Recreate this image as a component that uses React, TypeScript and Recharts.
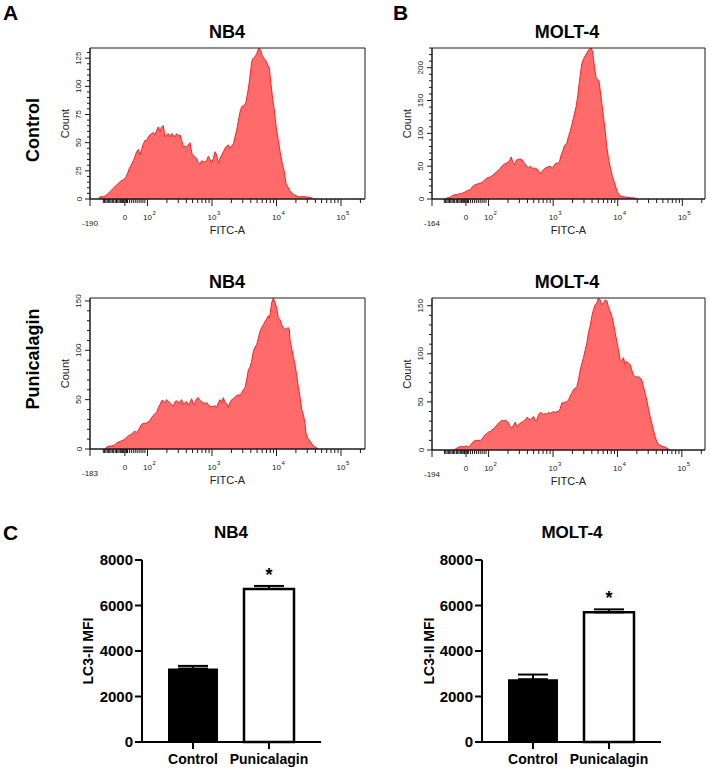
import React from "react";
import {
  AreaChart,
  Area,
  XAxis,
  YAxis,
  ReferenceArea,
  BarChart,
  Bar,
  Cell,
  ErrorBar,
  LabelList,
} from "recharts";

const FONT = "'Liberation Sans', Arial, sans-serif";
const AXIS = "#1a1a1a";

// ---- histogram data: [display position in decades (log10 FITC-A), count] ----
const nb4Control = [
  [1.238, 0], [1.264, 2], [1.315, 2], [1.351, 3], [1.393, 5], [1.444, 8], [1.496, 11], [1.548, 14],
  [1.589, 16], [1.625, 17], [1.662, 19], [1.693, 23], [1.718, 27], [1.755, 31], [1.796, 36], [1.832, 42],
  [1.858, 44], [1.884, 39], [1.91, 44], [1.935, 49], [1.961, 52], [1.987, 52], [2.013, 55], [2.039, 57],
  [2.065, 58], [2.09, 59], [2.116, 57], [2.142, 61], [2.168, 64], [2.194, 60], [2.22, 64], [2.245, 65],
  [2.271, 55], [2.297, 57], [2.323, 58], [2.349, 55], [2.375, 58], [2.401, 57], [2.426, 55], [2.452, 58],
  [2.478, 56], [2.504, 57], [2.53, 52], [2.556, 46], [2.581, 47], [2.607, 46], [2.633, 48], [2.659, 50],
  [2.674, 45], [2.695, 39], [2.726, 38], [2.762, 36], [2.788, 32], [2.814, 31], [2.84, 34], [2.866, 33],
  [2.891, 33], [2.917, 34], [2.943, 38], [2.969, 35], [2.995, 32], [3.021, 36], [3.047, 42], [3.072, 39],
  [3.098, 32], [3.124, 36], [3.15, 39], [3.176, 42], [3.202, 45], [3.227, 47], [3.253, 48], [3.279, 45],
  [3.305, 47], [3.331, 49], [3.357, 55], [3.382, 61], [3.408, 69], [3.434, 77], [3.46, 82], [3.501, 83],
  [3.527, 86], [3.553, 94], [3.574, 102], [3.6, 114], [3.615, 122], [3.641, 125], [3.667, 126], [3.693, 129],
  [3.718, 133], [3.734, 134], [3.754, 132], [3.78, 127], [3.806, 125], [3.832, 123], [3.863, 119], [3.889, 116],
  [3.915, 102], [3.94, 89], [3.966, 79], [3.997, 63], [4.028, 52], [4.059, 41], [4.095, 30], [4.121, 24],
  [4.147, 14], [4.173, 11], [4.209, 7], [4.261, 4], [4.338, 2], [4.442, 2], [4.545, 1], [4.571, 0],
];

const molt4Control = [
  [1.33, 0], [1.356, 1.5], [1.407, 3], [1.459, 6], [1.51, 7], [1.562, 8], [1.598, 9], [1.639, 11],
  [1.68, 13], [1.716, 14], [1.753, 19], [1.794, 22], [1.835, 23], [1.871, 24], [1.907, 26], [1.938, 29],
  [1.974, 32], [2.01, 33], [2.052, 35], [2.088, 38], [2.129, 42], [2.165, 45], [2.206, 50], [2.242, 53],
  [2.284, 55], [2.32, 57], [2.351, 64], [2.376, 56], [2.402, 52], [2.428, 59], [2.454, 60], [2.49, 61],
  [2.526, 59], [2.557, 54], [2.593, 50], [2.619, 47], [2.644, 50], [2.68, 47], [2.722, 47], [2.758, 45],
  [2.799, 38], [2.825, 42], [2.851, 45], [2.876, 47], [2.918, 49], [2.954, 50], [2.99, 47], [3.021, 52],
  [3.046, 55], [3.072, 54], [3.098, 57], [3.124, 67], [3.144, 72], [3.175, 81], [3.211, 85], [3.237, 95],
  [3.263, 103], [3.289, 113], [3.325, 128], [3.356, 141], [3.382, 158], [3.402, 176], [3.423, 191], [3.443, 206],
  [3.469, 213], [3.495, 218], [3.526, 223], [3.547, 227], [3.572, 229], [3.593, 230], [3.614, 222], [3.639, 201],
  [3.665, 185], [3.691, 182], [3.711, 179], [3.727, 166], [3.753, 146], [3.778, 126], [3.804, 105], [3.83, 80],
  [3.856, 62], [3.887, 47], [3.918, 34], [3.949, 25], [3.985, 13], [4.021, 6], [4.062, 4], [4.113, 3],
  [4.191, 2], [4.268, 1.5], [4.294, 0],
];

const nb4Punicalagin = [
  [1.351, 0], [1.367, 2], [1.403, 3], [1.444, 3], [1.486, 4], [1.522, 6], [1.548, 7], [1.589, 8],
  [1.625, 9], [1.662, 11], [1.693, 13], [1.729, 14], [1.765, 16], [1.796, 18], [1.832, 17], [1.858, 19],
  [1.884, 22], [1.91, 25], [1.935, 26], [1.972, 26], [2.003, 27], [2.039, 29], [2.065, 32], [2.09, 34],
  [2.116, 36], [2.142, 37], [2.168, 42], [2.194, 45], [2.22, 49], [2.245, 49], [2.271, 47], [2.297, 50],
  [2.323, 48], [2.349, 47], [2.375, 45], [2.401, 43], [2.426, 48], [2.452, 49], [2.478, 47], [2.504, 48],
  [2.53, 50], [2.556, 45], [2.581, 47], [2.607, 48], [2.633, 45], [2.659, 47], [2.685, 51], [2.711, 45],
  [2.736, 47], [2.762, 51], [2.788, 52], [2.814, 49], [2.84, 48], [2.866, 47], [2.891, 46], [2.917, 47],
  [2.943, 45], [2.969, 43], [2.995, 43], [3.021, 43], [3.047, 44], [3.072, 42], [3.098, 47], [3.124, 50],
  [3.15, 47], [3.176, 52], [3.202, 47], [3.227, 46], [3.253, 42], [3.279, 47], [3.305, 50], [3.331, 51],
  [3.357, 53], [3.382, 54], [3.408, 55], [3.434, 54], [3.46, 57], [3.486, 60], [3.511, 62], [3.537, 70],
  [3.563, 80], [3.589, 83], [3.615, 89], [3.641, 99], [3.667, 103], [3.693, 106], [3.718, 112], [3.744, 119],
  [3.77, 123], [3.796, 126], [3.822, 129], [3.848, 132], [3.873, 135], [3.889, 133], [3.904, 138], [3.925, 148],
  [3.951, 153], [3.977, 148], [4.003, 143], [4.028, 133], [4.054, 131], [4.08, 126], [4.106, 123], [4.132, 121],
  [4.157, 122], [4.183, 123], [4.199, 121], [4.209, 111], [4.235, 102], [4.261, 94], [4.287, 85], [4.313, 75],
  [4.338, 63], [4.364, 53], [4.39, 40], [4.416, 35], [4.442, 26], [4.457, 16], [4.483, 11], [4.519, 8],
  [4.561, 4], [4.597, 2], [4.649, 0],
];

const molt4Punicalagin = [
  [1.457, 0], [1.483, 1], [1.535, 3], [1.576, 4], [1.612, 3], [1.638, 4], [1.664, 4], [1.69, 3],
  [1.716, 5], [1.742, 7], [1.767, 9], [1.793, 10], [1.835, 10], [1.871, 10], [1.897, 11], [1.922, 14],
  [1.948, 16], [1.974, 17], [2.0, 19], [2.026, 19], [2.052, 21], [2.078, 22], [2.103, 24], [2.129, 26],
  [2.155, 28], [2.181, 29], [2.207, 31], [2.233, 30], [2.258, 31], [2.284, 30], [2.31, 28], [2.336, 24],
  [2.362, 23], [2.388, 26], [2.414, 29], [2.439, 24], [2.465, 26], [2.491, 28], [2.517, 29], [2.543, 30],
  [2.568, 31], [2.594, 34], [2.62, 33], [2.646, 31], [2.672, 33], [2.698, 35], [2.724, 30], [2.749, 31],
  [2.775, 37], [2.801, 39], [2.827, 38], [2.853, 37], [2.879, 38], [2.904, 37], [2.93, 39], [2.956, 38],
  [2.982, 39], [3.008, 40], [3.034, 39], [3.059, 40], [3.085, 40], [3.111, 43], [3.137, 49], [3.163, 49],
  [3.189, 50], [3.215, 50], [3.24, 52], [3.266, 56], [3.292, 59], [3.318, 63], [3.344, 64], [3.37, 66],
  [3.395, 73], [3.421, 83], [3.447, 90], [3.473, 96], [3.499, 104], [3.525, 111], [3.55, 122], [3.576, 129],
  [3.602, 139], [3.628, 146], [3.654, 151], [3.68, 153], [3.705, 158], [3.731, 156], [3.757, 151], [3.783, 153],
  [3.809, 156], [3.835, 155], [3.86, 149], [3.886, 144], [3.912, 139], [3.938, 132], [3.964, 122], [3.99, 113],
  [4.016, 104], [4.041, 94], [4.067, 92], [4.093, 96], [4.119, 89], [4.145, 92], [4.171, 90], [4.196, 89],
  [4.222, 83], [4.248, 78], [4.274, 76], [4.326, 76], [4.351, 75], [4.377, 73], [4.403, 66], [4.429, 59],
  [4.455, 52], [4.481, 43], [4.506, 35], [4.532, 28], [4.558, 21], [4.584, 14], [4.61, 9], [4.636, 6],
  [4.687, 4], [4.739, 3], [4.791, 1], [4.817, 0],
];

// ---- axis tick labels ----
const decades = [2, 3, 4, 5];
const decadeExps = ["2", "3", "4", "5"];
const zeroPos = 1.65;
const linearMinors = [
  1.315, 1.335, 1.355, 1.375, 1.395, 1.415, 1.435, 1.455, 1.475, 1.5, 1.52, 1.54, 1.56, 1.58, 1.6,
  1.615, 1.625, 1.635, 1.665, 1.675, 1.69, 1.72, 1.75, 1.78, 1.81, 1.84, 1.87, 1.9, 1.93, 1.96,
];
const logMinors = [2, 3, 4]
  .flatMap((d) => [2, 3, 4, 5, 6, 7, 8, 9].map((k) => d + Math.log10(k)))
  .concat([5 + Math.log10(2)]);

// ---- bar data ----
const cellLines = ["NB4", "MOLT-4"];
const treatments = ["Control", "Punicalagin"];
const nb4Mfi = [3230, 6730];
const nb4Sem = [115, 130];
const molt4Mfi = [2760, 5700];
const molt4Sem = [205, 130];
const sigMarks = ["", "*"];
const mfiTicks = [0, 2000, 4000, 6000, 8000];

type Major = { v: number; label: string; exp?: string; low?: boolean };

const HistXTick = (props: any) => {
  const { x, y, payload, majors } = props;
  const m: Major | undefined = majors.find((t: Major) => Math.abs(t.v - payload.value) < 1e-6);
  return (
    <g>
      <line x1={x} y1={y} x2={x} y2={y + (m ? 7 : 4)} stroke={AXIS} />
      {m && m.exp && (
        <g fontFamily={FONT} fill="#222">
          <text x={x} y={y + 21} fontSize={8} textAnchor="middle">10</text>
          <text x={x + 5} y={y + 15.5} fontSize={6}>{m.exp}</text>
        </g>
      )}
      {m && !m.exp && (
        <text x={x} y={y + (m.low ? 27 : 21)} fontSize={8} textAnchor="middle" fontFamily={FONT} fill="#222">
          {m.label}
        </text>
      )}
    </g>
  );
};

const HistYTick = (props: any) => {
  const { x, y, payload, majors } = props;
  const major = majors.includes(payload.value);
  return (
    <g>
      <line x1={x} y1={y} x2={x - (major ? 5 : 3)} y2={y} stroke={AXIS} />
      {major && (
        <text
          x={x - 8.5}
          y={y}
          transform={`rotate(-90 ${x - 8.5} ${y})`}
          textAnchor="middle"
          fontSize={8}
          fontFamily={FONT}
          fill="#222"
        >
          {payload.value}
        </text>
      )}
    </g>
  );
};

interface HistProps {
  data: number[][];
  box: { x: number; y: number; w: number; h: number };
  xDomain: [number, number];
  yMax: number;
  yMajor: number[];
  yStep: number;
  negLabel: string;
}

const Histogram = ({ data, box, xDomain, yMax, yMajor, yStep, negLabel }: HistProps) => {
  const YW = 50;
  const MT = 5;
  const MR = 8;
  const XH = 62;
  const rows = data.map(([x, count]) => ({ x, count }));
  const xMajors: Major[] = [
    { v: xDomain[0], label: negLabel, low: true },
    { v: zeroPos, label: "0" },
    ...decades.map((d, i) => ({ v: d, label: "10", exp: decadeExps[i] })),
  ];
  const xTicks = [...xMajors.map((m) => m.v), ...linearMinors, ...logMinors]
    .filter((v) => v >= xDomain[0] && v <= xDomain[1])
    .sort((a, b) => a - b);
  const yTicks: number[] = [];
  for (let v = 0; v <= yMax; v += yStep) yTicks.push(v);

  return (
    <div style={{ position: "absolute", left: box.x - YW, top: box.y - MT }}>
      <AreaChart
        width={YW + box.w + MR}
        height={MT + box.h + XH}
        data={rows}
        margin={{ top: MT, right: MR, left: 0, bottom: 0 }}
      >
        <XAxis
          dataKey="x"
          type="number"
          domain={xDomain}
          allowDataOverflow
          ticks={xTicks}
          interval={0}
          tickSize={0}
          tickMargin={0}
          tickLine={false}
          axisLine={{ stroke: AXIS }}
          height={XH}
          tick={(p: any) => <HistXTick {...p} majors={xMajors} />}
          label={{ value: "FITC-A", position: "center", fontSize: 11, fill: "#222", fontFamily: FONT }}
        />
        <YAxis
          type="number"
          domain={[0, yMax]}
          allowDataOverflow
          ticks={yTicks}
          interval={0}
          tickSize={0}
          tickMargin={0}
          tickLine={false}
          axisLine={{ stroke: AXIS }}
          width={YW}
          tick={(p: any) => <HistYTick {...p} majors={yMajor} />}
          label={{ value: "Count", angle: -90, position: "center", fontSize: 11, fill: "#222", fontFamily: FONT }}
        />
        <Area
          type="linear"
          dataKey="count"
          stroke="#ff2020"
          strokeWidth={1}
          fill="#ff6b6b"
          fillOpacity={1}
          dot={false}
          activeDot={false}
          isAnimationActive={false}
        />
        <ReferenceArea
          x1={xDomain[0]}
          x2={xDomain[1]}
          y1={0}
          y2={yMax}
          fill="none"
          stroke={AXIS}
          ifOverflow="visible"
        />
      </AreaChart>
    </div>
  );
};

const MfiChart = ({ values, errors, left, yAxisW }: { values: number[]; errors: number[]; left: number; yAxisW: number }) => {
  const rows = treatments.map((name, i) => ({ name, mfi: values[i], err: [0, errors[i]], sig: sigMarks[i] }));
  const txt = { fontSize: 14, fontWeight: 700, fill: "#000", fontFamily: FONT };
  return (
    <div style={{ position: "absolute", left, top: 530 }}>
      <BarChart width={yAxisW + 179 + 6} height={239} data={rows} margin={{ top: 30, right: 6, left: 0, bottom: 0 }}>
        <XAxis
          dataKey="name"
          padding={{ left: 13, right: 14 }}
          height={27}
          tickSize={7}
          tickMargin={5}
          interval={0}
          axisLine={{ stroke: "#000", strokeWidth: 2 }}
          tickLine={{ stroke: "#000", strokeWidth: 2 }}
          tick={txt}
        />
        <YAxis
          domain={[0, 8000]}
          ticks={mfiTicks}
          interval={0}
          width={yAxisW}
          tickSize={7}
          tickMargin={2}
          axisLine={{ stroke: "#000", strokeWidth: 2 }}
          tickLine={{ stroke: "#000", strokeWidth: 2 }}
          tick={{ ...txt, fontSize: 15 }}
          label={{ value: "LC3-II MFI", angle: -90, position: "center", ...txt }}
        />
        <Bar dataKey="mfi" barSize={50} isAnimationActive={false}>
          {rows.map((r, i) => (
            <Cell key={r.name} fill={i === 0 ? "#000" : "#fff"} stroke="#000" strokeWidth={i === 0 ? 0 : 2.5} />
          ))}
          <ErrorBar dataKey="err" width={15} stroke="#000" strokeWidth={2} direction="y" />
          <LabelList dataKey="sig" position="top" offset={8} style={{ ...txt, fontSize: 18 }} />
        </Bar>
      </BarChart>
    </div>
  );
};

export default function App() {
  const bold = { fontWeight: 700, fill: "#000" };
  return (
    <div style={{ position: "absolute", left: 0, top: 0, width: 710, height: 769, background: "#fff", fontFamily: FONT }}>
      <svg width={710} height={769} style={{ position: "absolute", left: 0, top: 0 }} fontFamily={FONT}>
        <text x={3} y={20} fontSize={21} {...bold}>A</text>
        <text x={393} y={20} fontSize={21} {...bold}>B</text>
        <text x={3} y={540} fontSize={21} {...bold}>C</text>
        <text x={227} y={38} fontSize={18} textAnchor="middle" {...bold}>{cellLines[0]}</text>
        <text x={567} y={38} fontSize={18} textAnchor="middle" {...bold}>{cellLines[1]}</text>
        <text x={227} y={288} fontSize={18} textAnchor="middle" {...bold}>{cellLines[0]}</text>
        <text x={567} y={288} fontSize={18} textAnchor="middle" {...bold}>{cellLines[1]}</text>
        <text x={39} y={130} fontSize={18} textAnchor="middle" transform="rotate(-90 39 130)" {...bold}>
          {treatments[0]}
        </text>
        <text x={39} y={359} fontSize={18} textAnchor="middle" transform="rotate(-90 39 359)" {...bold}>
          {treatments[1]}
        </text>
        <text x={231} y={538} fontSize={17} textAnchor="middle" {...bold}>{cellLines[0]}</text>
        <text x={572} y={538} fontSize={17} textAnchor="middle" {...bold}>{cellLines[1]}</text>
      </svg>

      <Histogram data={nb4Control} box={{ x: 90, y: 48, w: 275, h: 151 }} xDomain={[1.109, 5.372]} yMax={134} yMajor={[0, 25, 50, 75, 100, 125]} yStep={5} negLabel="-190" />
      <Histogram data={molt4Control} box={{ x: 432, y: 48, w: 273, h: 151 }} xDomain={[1.124, 5.351]} yMax={230} yMajor={[0, 50, 100, 150, 200]} yStep={10} negLabel="-164" />
      <Histogram data={nb4Punicalagin} box={{ x: 90, y: 298, w: 275, h: 151 }} xDomain={[1.109, 5.372]} yMax={153} yMajor={[0, 50, 100, 150]} yStep={10} negLabel="-183" />
      <Histogram data={molt4Punicalagin} box={{ x: 432, y: 298, w: 273, h: 152 }} xDomain={[1.121, 5.359]} yMax={158} yMajor={[0, 50, 100, 150]} yStep={10} negLabel="-194" />

      <MfiChart values={nb4Mfi} errors={nb4Sem} left={35} yAxisW={107} />
      <MfiChart values={molt4Mfi} errors={molt4Sem} left={377} yAxisW={105} />
    </div>
  );
}
